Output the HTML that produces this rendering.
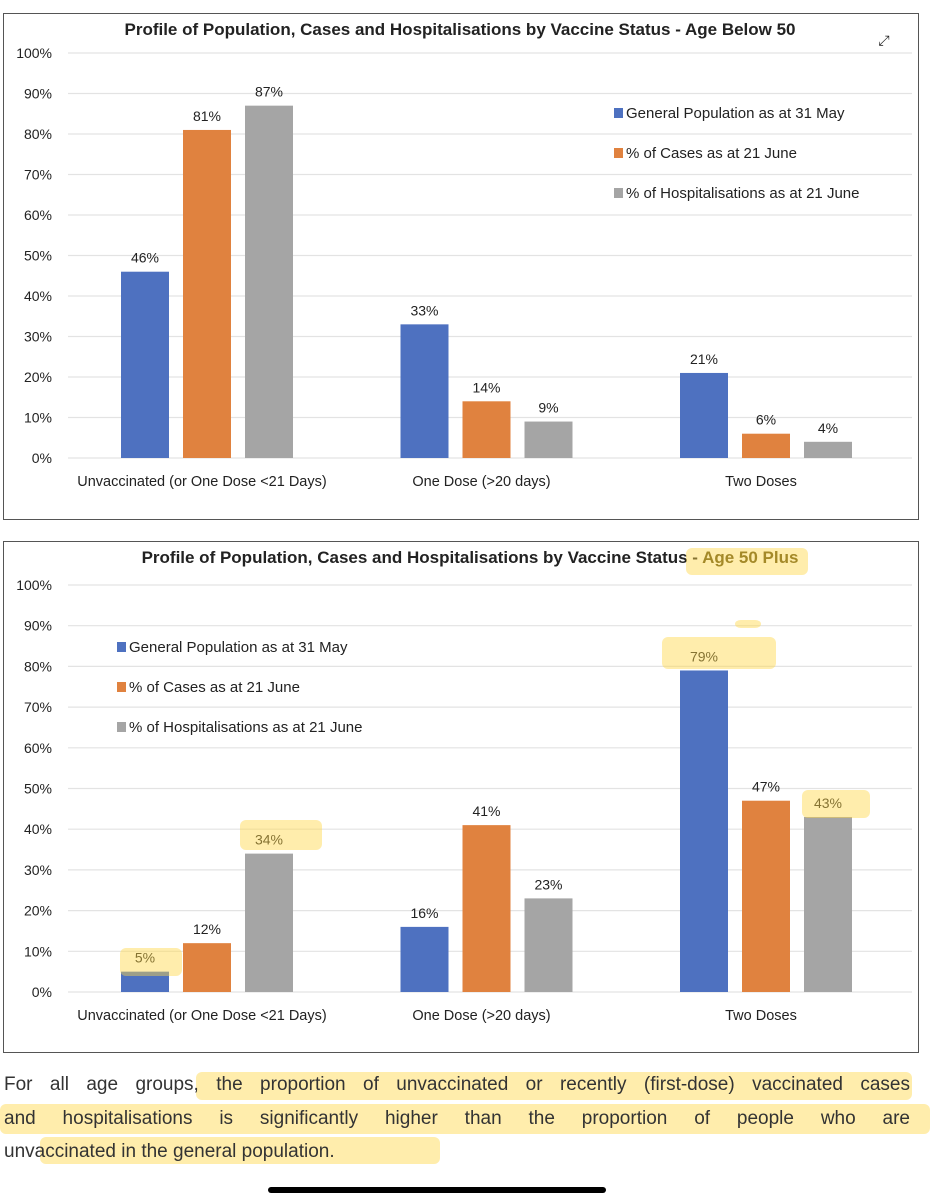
<!DOCTYPE html>
<html><head><meta charset="utf-8"><style>
body{margin:0;background:#fff;width:932px;height:1200px;overflow:hidden;font-family:"Liberation Sans",sans-serif;}
svg{position:absolute;left:0;top:0}
.ln{position:absolute;left:4px;width:906px;font-size:19px;line-height:24px;color:#333;text-align:justify;text-align-last:justify;white-space:nowrap}
.ln.last{text-align-last:left}
</style></head><body>
<svg id="s" width="932" height="1200"></svg>
<div>
<div class="ln" style="top:1073px">For all age groups, the proportion of unvaccinated or recently (first-dose) vaccinated cases</div>
<div class="ln" style="top:1107px">and hospitalisations is significantly higher than the proportion of people who are</div>
<div class="ln last" style="top:1140px">unvaccinated in the general population.</div>
</div>
<div style="position:absolute;left:268px;top:1187px;width:338px;height:6px;border-radius:3px;background:#000"></div>
<script>
const categories=["Unvaccinated (or One Dose <21 Days)","One Dose (>20 days)","Two Doses"];
const seriesNames=["General Population as at 31 May","% of Cases as at 21 June","% of Hospitalisations as at 21 June"];
const below50Pop=[46,33,21];
const below50Cases=[81,14,6];
const below50Hosp=[87,9,4];
const plus50Pop=[5,16,79];
const plus50Cases=[12,41,47];
const plus50Hosp=[34,23,43];
const yTicks=[0,10,20,30,40,50,60,70,80,90,100];
const colors=["#4e71c0","#e0823f","#a5a5a5"];
const NS="http://www.w3.org/2000/svg";
const svg=document.getElementById('s');
function mk(tag,attrs,parent){const e=document.createElementNS(NS,tag);for(const k in attrs)e.setAttribute(k,attrs[k]);(parent||svg).appendChild(e);return e;}
function txt(x,y,s,size,anchor,weight,parent){const t=mk('text',{x:x,y:y,'font-size':size,'text-anchor':anchor||'middle','font-weight':weight||'normal',fill:'#222','font-family':'"Liberation Sans",sans-serif'},parent);t.textContent=s;return t;}
function hl(x,y,w,h){const r=mk('rect',{x:x,y:y,width:w,height:h,rx:6,fill:'rgba(255,215,70,0.45)'});}
function chart(opt){
  const g=mk('g',{});
  
  
  const fr=mk('rect',{x:3.5,y:opt.top+.5,width:915,height:opt.h,fill:'#fff',stroke:'#555','stroke-width':1},g);
  
  const y0=opt.y0,y100=opt.y100;
  const ys=v=>y0-(y0-y100)*v/100;
  const title=txt(opt.titleX,opt.top+22,opt.title,17,'middle','bold',g);
  
  if(opt.hlTitle){const ts=mk('tspan',{},title);ts.textContent=opt.hlTitle;ts.setAttribute('fill','#5a4a10');}
  yTicks.forEach(t=>{
    const l=mk('line',{x1:68,x2:912,y1:ys(t),y2:ys(t),stroke:'#e3e3e3','stroke-width':1.2},g);
    
    const lb=txt(52,ys(t)+5,t+'%',14,'end','normal',g);
    
  });
  const groupX=i=>121+i*279.5, bw=48, step=62;
  opt.series.forEach((arr,si)=>{
    arr.forEach((v,ci)=>{
      const x=groupX(ci)+si*step;
      const b=mk('rect',{x:x,y:ys(v),width:bw,height:y0-ys(v),fill:colors[si]},g);
      
      const vl=txt(x+bw/2,ys(v)-9,v+'%',14,'middle','normal',g);
      
    });
  });
  categories.forEach((c,ci)=>{
    const cl=txt(groupX(ci)+step+bw/2-5,y0+28,c,14.5,'middle','normal',g);
    
  });
  seriesNames.forEach((n,si)=>{
    const ly=opt.legY+si*40;
    const sq=mk('rect',{x:opt.legX,y:ly-10,width:9,height:10,fill:colors[si]},g);
    
    const lt=txt(opt.legX+12,ly,n,15,'start','normal',g);
    
  });
}
chart({name:'chart-below-50',top:13,h:506,y0:458,y100:53,titleX:460,title:'Profile of Population, Cases and Hospitalisations by Vaccine Status - Age Below 50',series:[below50Pop,below50Cases,below50Hosp],legX:614,legY:118});
chart({name:'chart-50-plus',top:541,h:511,y0:992,y100:585,titleX:470,title:'Profile of Population, Cases and Hospitalisations by Vaccine Status - ',hlTitle:'Age 50 Plus',series:[plus50Pop,plus50Cases,plus50Hosp],legX:117,legY:652});
const ex=txt(884,45,'⤢',14,'middle','normal');

hl(686,548,122,27);hl(662,637,114,32);hl(735,620,26,8);hl(802,790,68,28);hl(240,820,82,30);hl(120,948,62,28);
hl(196,1072,716,28);hl(0,1104,930,30);hl(40,1137,400,27);
</script>
</body></html>
